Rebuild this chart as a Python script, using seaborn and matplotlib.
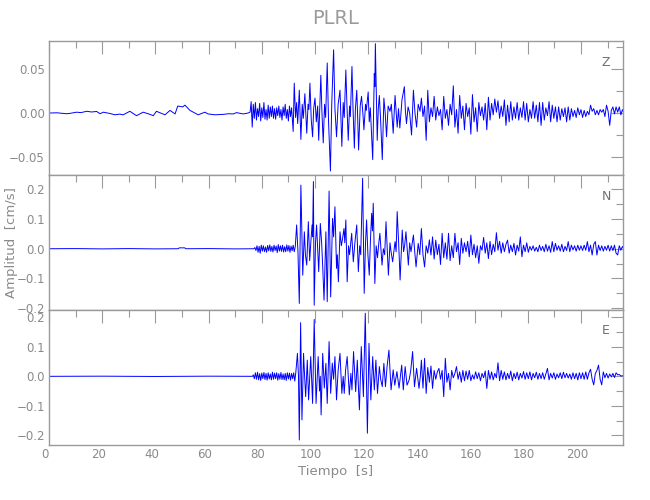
import numpy as np
import pandas as pd
import matplotlib
matplotlib.use("Agg")
import matplotlib.pyplot as plt
import seaborn as sns
from matplotlib.ticker import MultipleLocator, FuncFormatter
from matplotlib.transforms import ScaledTranslation

# ---------------- data ----------------
STATION = "PLRL"
COMPONENTS = ["Z", "N", "E"]
NOISE_DT = 0.4   # s, sampling of the P-wave noise segment
CODA_DT = 0.6    # s, sampling of the coda segment
CODA_T0 = 140.0

# --- Z component (cm/s)
z_pre = [(0, 0.0), (3, 0.0003), (6.6, -0.0008), (8, -0.0003), (10.4, 0.001), (12, 0.0005),
         (14.2, 0.002), (16, 0.0012), (17.9, 0.0018), (19.2, -0.0008), (20.4, 0.001),
         (22.9, -0.0005), (24.8, -0.002), (26.5, -0.0012), (27.9, -0.002), (30.4, 0.002),
         (32.9, -0.003), (35.4, 0.001), (37.5, -0.001), (39.2, -0.003), (40.4, 0.002),
         (43.6, -0.002), (45.5, 0.003), (47.4, -0.001), (48.4, 0.008), (50.3, 0.007),
         (51.1, 0.009), (53.0, 0.003), (56.1, -0.002), (58.6, 0.001), (59.8, -0.001),
         (62.4, -0.002), (65.5, -0.0015), (67.5, -0.0008), (69.3, -0.001), (70.5, 0.0005),
         (73.0, -0.001), (74.8, 0.0), (75.6, 0.001)]
z_noise_t0 = 76.0
z_noise = [0.013, -0.016, 0.010, -0.006, 0.012, -0.008, 0.005, -0.004, 0.011, -0.009,
           0.006, -0.005, 0.012, -0.007, 0.004, -0.008, 0.009, -0.006, 0.007, -0.004,
           0.008, -0.006, 0.005, -0.007, 0.006, -0.003, 0.008, -0.005, 0.004, -0.008,
           0.007, -0.003, 0.010, -0.006, 0.004, -0.009, 0.008, -0.004, 0.006]
z_main = [(91.8, -0.021), (92.2, 0.034), (92.7, -0.005), (93.1, 0.012), (93.5, -0.012),
          (94.1, 0.026), (94.7, -0.030), (95.2, 0.010), (95.6, -0.006), (96.2, 0.022),
          (96.9, -0.023), (97.4, 0.010), (97.7, 0.004), (98.1, 0.034), (98.6, -0.008),
          (99.1, -0.027), (99.5, 0.005), (100.0, 0.017), (100.5, -0.010), (101.0, 0.008),
          (101.4, -0.031), (102.2, 0.043), (102.6, 0.002), (103.1, -0.034), (103.6, 0.010),
          (104.0, -0.005), (104.6, 0.057), (105.1, -0.010), (105.8, -0.066), (106.3, 0.010),
          (107.0, 0.072), (107.5, 0.005), (108.1, -0.027), (108.7, 0.010), (109.4, 0.026),
          (109.7, 0.0), (110.1, -0.038), (110.6, 0.012), (111.0, -0.005), (111.6, 0.049),
          (112.0, 0.010), (112.5, -0.031), (113.0, 0.008), (113.3, -0.004), (113.9, 0.053),
          (114.3, 0.005), (114.8, -0.040), (115.2, 0.005), (115.7, 0.026), (116.0, 0.0),
          (116.4, -0.042), (117.0, 0.008), (117.5, 0.019), (118.0, 0.0), (118.4, -0.019),
          (119.0, 0.010), (119.3, 0.003), (120.0, 0.024), (120.4, -0.010), (120.8, 0.006),
          (121.7, -0.053), (122.3, 0.045), (122.5, 0.030), (122.7, 0.079), (123.4, -0.031),
          (123.8, 0.005), (124.2, 0.020), (124.7, -0.010), (125.3, -0.053), (125.9, 0.017),
          (126.4, 0.0), (126.9, -0.027), (127.5, 0.008), (128.2, 0.002), (128.7, 0.010),
          (129.4, -0.023), (130.1, 0.020), (130.5, 0.002), (130.9, -0.016), (131.4, 0.005),
          (131.9, -0.017), (132.7, 0.015), (133.6, 0.030), (134.0, 0.002), (134.4, -0.012),
          (135.0, 0.007), (135.6, 0.0), (136.3, -0.025), (137.0, 0.026), (137.6, 0.0),
          (138.2, -0.016), (138.8, 0.010), (139.5, 0.002)]
z_coda = [0.017, -0.004, 0.008, -0.031, 0.026, -0.010, 0.006, -0.004, 0.019, -0.008,
          0.007, -0.003, 0.004, -0.019, 0.019, -0.006, 0.004, -0.014, 0.010, -0.002,
          0.031, -0.016, 0.004, -0.023, 0.020, -0.006, 0.008, -0.019, 0.011, -0.004,
          0.006, -0.024, 0.021, -0.010, 0.006, -0.021, 0.012, -0.003, 0.007, -0.008,
          0.011, -0.019, 0.018, -0.008, 0.011, -0.002, 0.016, 0.001, 0.014, -0.006,
          0.008, -0.004, 0.015, -0.014, 0.009, -0.010, 0.013, -0.008, 0.007, -0.006,
          0.012, -0.008, 0.006, -0.005, 0.013, -0.008, 0.011, -0.010, 0.004, -0.006,
          0.013, -0.006, 0.009, -0.010, 0.012, -0.014, 0.012, -0.008, 0.006, -0.003,
          0.013, -0.010, 0.009, -0.006, 0.007, -0.010, 0.007, -0.008, 0.005, -0.004,
          0.006, -0.010, 0.007, -0.008, 0.005, -0.004, 0.003, -0.005, 0.006, -0.002,
          0.004, -0.005, 0.003, -0.004, 0.002, -0.002, 0.009, 0.002, 0.005, -0.002,
          0.003, -0.002, 0.004, 0.001, 0.004, -0.004, 0.009, 0.002, -0.014, 0.003,
          0.007, -0.001, 0.007, 0.001, 0.007, -0.002, 0.004, -0.001]

# --- N component (cm/s)
n_pre = [(0, 0.0), (10, 0.0005), (20, -0.0005), (30, 0.0005), (40, -0.0005), (48.5, 0.0),
         (49, 0.003), (51, 0.003), (51.5, 0.0), (60, 0.0005), (70, -0.0005), (77.0, 0.0)]
n_noise_t0 = 77.4
n_noise = [0.004, -0.006, 0.010, -0.012, 0.008, -0.015, 0.012, -0.008, 0.010, -0.010,
           0.006, -0.012, 0.011, -0.007, 0.013, -0.009, 0.008, -0.011, 0.012, -0.006,
           0.009, -0.013, 0.014, -0.008, 0.010, -0.009, 0.012, -0.011, 0.007, -0.010,
           0.013, -0.008, 0.011, -0.012, 0.009, -0.007, 0.012, -0.010, 0.008]
n_main = [(93.1, 0.080), (93.6, -0.010), (94.1, -0.184), (94.7, 0.214), (95.4, -0.089),
          (96.0, 0.057), (96.4, -0.020), (96.9, -0.055), (97.5, 0.091), (98.0, -0.040),
          (98.5, 0.030), (98.9, 0.080), (99.1, 0.040), (99.4, 0.226), (99.7, -0.190),
          (100.2, 0.020), (100.6, 0.080), (101.0, 0.000), (101.4, -0.077), (102.0, 0.085),
          (102.5, 0.020), (102.9, -0.060), (103.4, -0.173), (104.1, 0.057), (104.6, -0.178),
          (105.3, 0.194), (105.9, -0.162), (106.6, 0.102), (107.0, 0.040), (107.5, 0.141),
          (108.1, -0.066), (108.4, -0.020), (108.8, -0.111), (109.4, 0.057), (109.9, 0.010),
          (110.3, 0.030), (110.9, 0.068), (111.2, 0.020), (111.6, 0.097), (112.1, -0.111),
          (112.6, 0.010), (113.0, -0.020), (113.8, 0.052), (114.4, -0.044), (115.0, 0.020),
          (115.7, 0.080), (116.3, -0.077), (116.8, 0.010), (117.2, -0.020), (117.9, 0.237),
          (118.5, -0.150), (119.0, 0.020), (119.4, 0.097), (119.9, -0.020), (120.4, -0.089),
          (120.9, 0.040), (121.3, 0.119), (121.6, 0.060), (121.9, 0.153), (122.5, -0.117),
          (123.0, 0.010), (123.5, -0.030), (124.0, 0.020), (124.4, 0.052), (125.2, -0.055),
          (125.7, 0.000), (126.2, -0.020), (126.7, 0.091), (127.6, -0.089), (128.2, 0.020),
          (128.6, -0.010), (129.2, -0.044), (130.1, 0.024), (130.5, -0.010), (130.9, 0.125),
          (131.5, 0.010), (132.0, -0.105), (132.8, 0.063), (133.3, -0.010), (133.7, 0.010),
          (134.2, 0.057), (135.1, -0.055), (135.6, 0.020), (136.1, -0.010), (137.0, 0.046),
          (137.5, -0.010), (138.0, -0.061), (138.8, 0.018), (139.4, -0.020)]
n_coda = [0.068, -0.020, -0.061, 0.010, -0.015, 0.030, -0.021, 0.040, -0.035, 0.029,
          -0.020, 0.015, -0.053, 0.052, -0.030, 0.020, -0.035, 0.052, -0.040, 0.010,
          -0.030, 0.052, -0.010, 0.020, -0.053, 0.035, -0.015, 0.020, -0.010, 0.025,
          -0.027, 0.046, -0.020, 0.015, -0.030, 0.010, -0.049, 0.010, -0.005, 0.038,
          -0.015, 0.020, -0.033, 0.025, -0.020, 0.015, -0.010, 0.054, -0.005, 0.025,
          -0.015, 0.020, -0.010, 0.015, 0.029, -0.015, 0.012, -0.010, 0.018, -0.021,
          0.012, -0.008, 0.040, -0.027, 0.012, -0.010, 0.020, -0.012, 0.008, -0.005,
          0.010, -0.008, 0.005, -0.010, 0.012, -0.006, 0.008, -0.010, 0.015, -0.008,
          0.010, -0.012, 0.024, -0.010, 0.018, -0.005, 0.010, -0.008, 0.015, -0.010,
          0.008, -0.006, 0.024, -0.010, 0.012, -0.004, 0.010, -0.008, 0.012, -0.005,
          0.010, -0.006, 0.012, -0.005, 0.024, -0.010, 0.012, -0.021, 0.015, 0.024,
          -0.021, 0.012, -0.006, 0.010, -0.008, 0.008, -0.005, 0.012, -0.008, 0.010,
          -0.006, 0.012, -0.015, -0.021, 0.010, -0.005, 0.008, -0.004]

# --- E component (cm/s)
e_pre = [(0, 0.0), (20, 0.0005), (40, -0.0005), (60, 0.0005), (76.5, 0.0)]
e_noise_t0 = 76.8
e_noise = [0.005, -0.008, 0.012, -0.010, 0.014, -0.012, 0.009, -0.014, 0.011, -0.008,
           0.013, -0.011, 0.010, -0.013, 0.012, -0.009, 0.008, -0.012, 0.014, -0.010,
           0.011, -0.008, 0.012, -0.013, 0.009, -0.010, 0.013, -0.011, 0.008, -0.012,
           0.010, -0.014, 0.012, -0.009, 0.011, -0.013, 0.010, -0.008, 0.012, -0.016, 0.014]
e_main = [(93.4, 0.078), (93.8, 0.000), (94.1, -0.216), (94.6, 0.182), (95.1, -0.148),
          (95.7, 0.078), (96.1, 0.000), (96.5, -0.069), (97.1, 0.055), (97.6, -0.080),
          (98.4, 0.067), (99.1, -0.092), (99.7, 0.193), (100.4, -0.092), (101.2, 0.067),
          (101.7, -0.050), (102.0, 0.000), (102.3, -0.131), (102.9, 0.078), (103.5, -0.040),
          (104.1, 0.044), (104.6, -0.092), (105.3, 0.118), (105.9, -0.058), (106.5, 0.045),
          (107.0, -0.010), (107.5, 0.067), (108.1, -0.080), (108.7, 0.020), (109.4, 0.078),
          (110.1, -0.058), (110.6, 0.000), (111.0, -0.058), (111.5, 0.021), (112.1, 0.067),
          (112.9, -0.063), (113.5, 0.010), (113.9, -0.046), (114.5, 0.084), (115.3, -0.052),
          (115.9, 0.055), (116.7, -0.114), (117.4, 0.101), (118.2, -0.069), (118.9, 0.214),
          (119.7, -0.193), (120.3, 0.112), (121.0, -0.080), (121.7, 0.067), (122.3, -0.046),
          (122.9, 0.055), (123.5, -0.058), (124.2, 0.033), (124.7, -0.010), (125.3, -0.035),
          (125.9, 0.044), (126.5, -0.035), (127.1, 0.033), (127.8, 0.089), (128.6, -0.046),
          (129.4, 0.022), (130.0, -0.030), (130.8, 0.016), (131.6, -0.040), (132.6, 0.038),
          (133.2, -0.046), (133.9, 0.033), (134.6, -0.030), (135.4, -0.012), (136.0, 0.020),
          (136.7, 0.084), (137.4, -0.035), (138.2, 0.027), (139.1, -0.041), (139.6, 0.0)]
e_coda = [0.055, -0.040, 0.061, -0.058, 0.030, -0.020, 0.035, -0.041, 0.020, -0.010,
          0.015, 0.027, -0.010, 0.020, -0.069, 0.061, -0.020, 0.010, -0.046, 0.020,
          -0.005, 0.010, 0.033, -0.010, 0.015, -0.020, 0.020, -0.015, 0.018, -0.010,
          0.020, -0.015, 0.005, -0.010, 0.015, -0.008, 0.012, -0.015, 0.010, -0.005,
          0.018, -0.041, 0.020, -0.010, 0.015, -0.012, 0.010, -0.005, 0.046, -0.015,
          0.020, -0.010, 0.015, -0.012, 0.010, -0.008, 0.018, -0.015, 0.010, -0.008,
          0.014, -0.012, 0.010, -0.006, 0.016, -0.010, 0.012, -0.008, 0.015, -0.012,
          0.010, -0.005, 0.014, -0.010, 0.010, -0.008, 0.012, -0.010, 0.008, 0.027,
          -0.012, 0.010, -0.006, 0.012, -0.010, 0.008, -0.005, 0.012, -0.008, 0.014,
          -0.005, 0.010, -0.006, 0.008, -0.010, 0.012, -0.008, 0.010, -0.012, 0.012,
          -0.008, 0.012, -0.010, 0.015, -0.010, 0.012, 0.024, -0.010, -0.029, 0.010,
          0.020, 0.038, -0.010, -0.029, 0.015, -0.005, 0.010, -0.006, 0.008, -0.002,
          0.010, -0.004, 0.012, 0.005, 0.006, 0.001, 0.002, 0.000]

Y_LIMITS = {"Z": (-0.0705, 0.082), "N": (-0.206, 0.248), "E": (-0.233, 0.225)}
Y_MAJOR = {"Z": 0.05, "N": 0.1, "E": 0.1}
Y_MINOR = {"Z": 0.025, "N": 0.05, "E": 0.05}
Y_FMT = {"Z": "%.2f", "N": "%.1f", "E": "%.1f"}
X_MAX = 215.8


def assemble(pre, noise_t0, noise, main, coda):
    t = [p[0] for p in pre]
    v = [p[1] for p in pre]
    t += list(noise_t0 + NOISE_DT * np.arange(len(noise)))
    v += list(noise)
    t += [p[0] for p in main]
    v += [p[1] for p in main]
    t += list(CODA_T0 + CODA_DT * np.arange(len(coda)))
    v += list(coda)
    return pd.DataFrame({"t": t, "v": v})


traces = {
    "Z": assemble(z_pre, z_noise_t0, z_noise, z_main, z_coda),
    "N": assemble(n_pre, n_noise_t0, n_noise, n_main, n_coda),
    "E": assemble(e_pre, e_noise_t0, e_noise, e_main, e_coda),
}

# ---------------- style ----------------
sns.set_theme(style="white")
plt.rcParams["font.family"] = ["DejaVu Sans"]
plt.rcParams["axes.unicode_minus"] = True
TXT = "#8a8a8a"
AXC = "#9a9a9a"
LINE = "#0000ff"

fig = plt.figure(figsize=(6.5, 5), dpi=100)
fig.patch.set_facecolor("white")
W_PX, H_PX = 650.0, 500.0
left_px, right_px = 49, 623
rows_px = [(41, 175), (175, 310), (310, 445)]

for comp, (top, bot) in zip(COMPONENTS, rows_px):
    ax = fig.add_axes([left_px / W_PX, 1 - bot / H_PX,
                       (right_px - left_px) / W_PX, (bot - top) / H_PX])
    df = traces[comp]
    sns.lineplot(data=df, x="t", y="v", ax=ax, color=LINE, linewidth=0.7,
                 estimator=None, sort=False)
    ax.set_xlim(0, X_MAX)
    ax.set_ylim(*Y_LIMITS[comp])
    ax.xaxis.set_major_locator(MultipleLocator(20))
    ax.xaxis.set_minor_locator(MultipleLocator(10))
    ax.yaxis.set_major_locator(MultipleLocator(Y_MAJOR[comp]))
    ax.yaxis.set_minor_locator(MultipleLocator(Y_MINOR[comp]))
    fmt = Y_FMT[comp]
    ax.yaxis.set_major_formatter(FuncFormatter(
        lambda y, p, f=fmt: (f % (0.0 if abs(y) < 1e-9 else y)).replace("-", "\u2212")))
    ax.tick_params(which="both", direction="in", top=True, right=True,
                   color=AXC, labelcolor=TXT, labelsize=8.5, width=0.8)
    ax.tick_params(axis="y", pad=3)
    ax.tick_params(axis="x", pad=2)
    ax.tick_params(which="major", length=9)
    ax.tick_params(which="minor", length=5)
    for s in ax.spines.values():
        s.set_color(AXC)
        s.set_linewidth(1.0)
    ax.set_xlabel("")
    ax.set_ylabel("")
    ax.text(606 / W_PX, 1 - (top + 21) / H_PX, comp, transform=fig.transFigure,
            ha="center", va="center", color="#707070", fontsize=9)
    if comp != "E":
        ax.tick_params(labelbottom=False)
    else:
        ax.xaxis.set_major_formatter(FuncFormatter(lambda x, p: "%d" % x))
        for lab in ax.get_xticklabels():
            lab.set_transform(lab.get_transform() +
                              ScaledTranslation(-4 / 100, 0, fig.dpi_scale_trans))

fig.text(336 / W_PX, 1 - 18 / H_PX, STATION, ha="center", va="center",
         color="#9a9a9a", fontsize=14)
fig.text(336 / W_PX, 1 - 472 / H_PX, "Tiempo  [s]", ha="center", va="center",
         color=TXT, fontsize=9.5)
fig.text(12 / W_PX, 1 - 243 / H_PX, "Amplitud  [cm/s]", ha="center", va="center",
         rotation=90, color=TXT, fontsize=9.5)

fig.savefig("out.png", dpi=100, facecolor="white")
